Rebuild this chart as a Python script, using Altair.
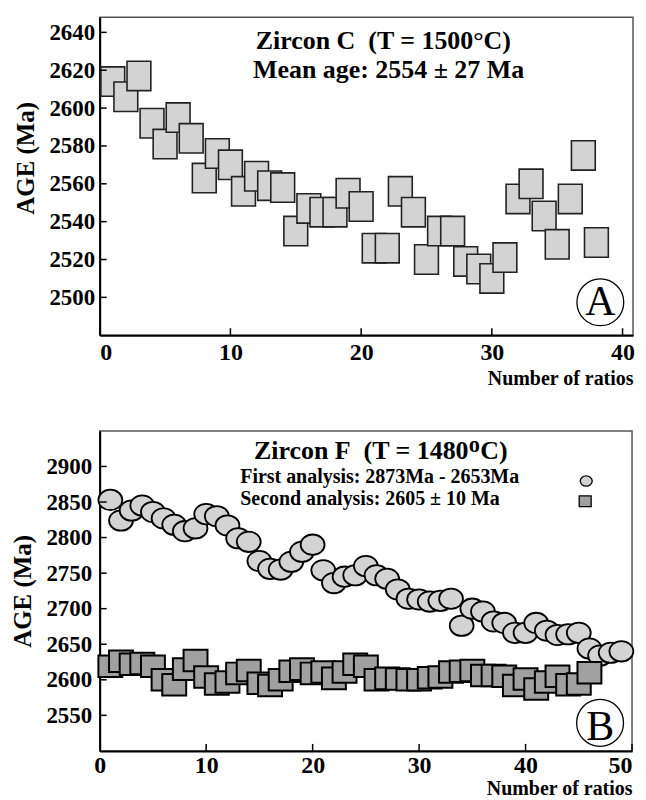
import altair as alt
import pandas as pd

FONT = "Liberation Serif"

# ---------------- data ----------------
a_ratio = list(range(1, 39))
a_age = [2614, 2606, 2617, 2592, 2581, 2595, 2584, 2563, 2576, 2570,
         2556, 2564, 2559, 2558, 2535, 2547, 2545, 2545, 2555, 2548,
         2526, 2526, 2556, 2545, 2520, 2535, 2535, 2519, 2515, 2510,
         2521, 2552, 2560, 2543, 2528, 2552, 2575, 2529]

b_first_ratio = list(range(1, 50))
b_first_age = [2853, 2824, 2838, 2845, 2836, 2827, 2818, 2809, 2813, 2833,
               2830, 2817, 2799, 2794, 2767, 2756, 2755, 2766, 2780, 2790,
               2754, 2736, 2745, 2747, 2760, 2747, 2742, 2727, 2714, 2713,
               2710, 2711, 2714, 2676, 2700, 2696, 2682, 2680, 2666, 2666,
               2680, 2669, 2663, 2664, 2666, 2644, 2634, 2638, 2640]

b_second_ratio = list(range(1, 47))
b_second_age = [2619, 2626, 2622, 2623, 2619, 2600, 2593, 2615, 2627, 2604,
                2594, 2597, 2609, 2613, 2595, 2592, 2600, 2612, 2615, 2609,
                2611, 2602, 2611, 2622, 2619, 2600, 2602, 2601, 2600, 2600,
                2603, 2604, 2611, 2612, 2613, 2606, 2606, 2605, 2592, 2601,
                2587, 2597, 2605, 2593, 2594, 2610]

a_x_ticks = [0, 10, 20, 30, 40]
a_y_ticks = [2500, 2520, 2540, 2560, 2580, 2600, 2620, 2640]
b_x_ticks = [0, 10, 20, 30, 40, 50]
b_y_ticks = [2550, 2600, 2650, 2700, 2750, 2800, 2850, 2900]

a_title_lines = ["Zircon C\u00a0\u00a0(T = 1500\u00b0C)", "Mean age: 2554 \u00b1 27 Ma"]
b_title = "Zircon F\u00a0\u00a0(T = 1480\u1d3cC)"
b_legend_lines = ["First analysis: 2873Ma - 2653Ma", "Second analysis: 2605 \u00b1 10 Ma"]

# ---------------- styling ----------------
A_SQUARE = "M-0.81,-1L0.81,-1L0.81,1L-0.81,1Z"
B_SQUARE = "M-1,-0.9L1,-0.9L1,0.9L-1,0.9Z"
ELLIPSE = ("M-1,0C-1,-0.47,-0.55,-0.85,0,-0.85C0.55,-0.85,1,-0.47,1,0"
           "C1,0.47,0.55,0.85,0,0.85C-0.55,0.85,-1,0.47,-1,0Z")

A_W, A_H = 535, 319
B_W, B_H = 534, 321
GAP = 96

a_xs = alt.Scale(domain=[0, 40.8], nice=False, zero=False)
a_ys = alt.Scale(domain=[2480, 2648], nice=False, zero=False)
b_xs = alt.Scale(domain=[0, 50], nice=False, zero=False)
b_ys = alt.Scale(domain=[2500, 2950], nice=False, zero=False)


def x_axis(values, title_y, label_pad, label_align=None):
    kw = dict(values=values, title="Number of ratios", format="d",
              labelFontSize=24, labelPadding=label_pad, titleFontSize=20,
              titleAnchor="end", titleY=title_y, titleBaseline="alphabetic")
    if label_align is not None:
        kw["labelAlign"] = label_align
    return alt.Axis(**kw)


def y_axis(values, label_padding, title_y=None):
    kw = dict(values=values, title="AGE (Ma)", format="d",
              labelFontSize=23, labelPadding=label_padding,
              titleFontSize=25, titlePadding=10)
    if title_y is not None:
        kw["titleY"] = title_y
    return alt.Axis(**kw)


def make_panel(xs, ys, xax, yax, h, xticks, yticks, layers_spec):
    X = alt.X("ratio:Q", scale=xs, axis=xax)
    Y = alt.Y("age:Q", scale=ys, axis=yax)
    layers = []
    for df, mark, kind in layers_spec:
        if kind == "text":
            layers.append(alt.Chart(df).mark_text(**mark).encode(x=X, y=Y, text="t:N"))
        else:
            layers.append(alt.Chart(df).mark_point(**mark).encode(x=X, y=Y))
    xt = pd.DataFrame({"ratio": [v for v in xticks if v != 0]})
    yt = pd.DataFrame({"age": yticks})
    rx = alt.Chart(xt).mark_rule(color="black", strokeWidth=1.5).encode(
        x=X, y=alt.value(h), y2=alt.value(h - 7))
    ry = alt.Chart(yt).mark_rule(color="black", strokeWidth=1.5).encode(
        y=Y, x=alt.value(0), x2=alt.value(7))
    return alt.layer(*(layers[:1] + [rx, ry] + layers[1:]))


# ---------------- panel A ----------------
dfa = pd.DataFrame({"ratio": a_ratio, "age": a_age})
txt_a = pd.DataFrame({"ratio": [21.7, 22.1], "age": [2631, 2616], "t": a_title_lines})
circ_a = pd.DataFrame({"ratio": [38.3], "age": [2497.4]})
let_a = pd.DataFrame({"ratio": [38.3], "age": [2490.9], "t": ["A"]})

panel_a = make_panel(
    a_xs, a_ys, x_axis(a_x_ticks, 49, 5), y_axis(a_y_ticks, 5, title_y=141), A_H,
    a_x_ticks, a_y_ticks,
    [
        (dfa, dict(shape=A_SQUARE, size=870, filled=True, fill="#d3d3d3",
                   stroke="#222222", strokeWidth=1.6, opacity=1), "point"),
        (txt_a, dict(font=FONT, fontSize=26, fontWeight="bold", align="center",
                     baseline="alphabetic", color="black"), "text"),
        (circ_a, dict(shape="circle", size=2209, fill="white", stroke="black",
                      strokeWidth=1.3, opacity=1, fillOpacity=1), "point"),
        (let_a, dict(font=FONT, fontSize=42, align="center", baseline="alphabetic",
                     color="black"), "text"),
    ],
).properties(width=A_W, height=A_H)

# ---------------- panel B ----------------
dfb1 = pd.DataFrame({"ratio": b_first_ratio, "age": b_first_age})
dfb2 = pd.DataFrame({"ratio": b_second_ratio, "age": b_second_age})
txt_bt = pd.DataFrame({"ratio": [26.4], "age": [2910], "t": [b_title]})
txt_bl = pd.DataFrame({"ratio": [13.2, 13.2], "age": [2877, 2845.5], "t": b_legend_lines})
leg_c = pd.DataFrame({"ratio": [45.7], "age": [2879.5]})
leg_s = pd.DataFrame({"ratio": [45.6], "age": [2851]})
circ_b = pd.DataFrame({"ratio": [47.0], "age": [2539.4]})
let_b = pd.DataFrame({"ratio": [47.0], "age": [2516], "t": ["B"]})

b_label_align = {"condition": {"test": "datum.value === 50", "value": "right"},
                 "value": "center"}

panel_b = make_panel(
    b_xs, b_ys, x_axis(b_x_ticks, 44, 3, b_label_align), y_axis(b_y_ticks, 8), B_H,
    b_x_ticks, b_y_ticks,
    [
        (dfb1, dict(shape=ELLIPSE, size=576, filled=True, fill="#d3d3d3",
                    stroke="black", strokeWidth=1.8, opacity=1), "point"),
        (dfb2, dict(shape=B_SQUARE, size=576, filled=True, fill="#a0a0a0",
                    stroke="black", strokeWidth=2, opacity=1), "point"),
        (txt_bt, dict(font=FONT, fontSize=26, fontWeight="bold", align="center",
                      baseline="alphabetic", color="black"), "text"),
        (txt_bl, dict(font=FONT, fontSize=20, fontWeight="bold", align="left",
                      baseline="alphabetic", color="black"), "text"),
        (leg_c, dict(shape=ELLIPSE, size=144, filled=True, fill="#d3d3d3",
                     stroke="black", strokeWidth=1.3, opacity=1), "point"),
        (leg_s, dict(shape=B_SQUARE, size=144, filled=True, fill="#a0a0a0",
                     stroke="black", strokeWidth=1.3, opacity=1), "point"),
        (circ_b, dict(shape="circle", size=2209, fill="white", stroke="black",
                      strokeWidth=1.3, opacity=1, fillOpacity=1), "point"),
        (let_b, dict(font=FONT, fontSize=42, align="center", baseline="alphabetic",
                     color="black"), "text"),
    ],
).properties(width=B_W, height=B_H)

chart = alt.vconcat(panel_a, panel_b, spacing=GAP, bounds="flush").properties(
    padding={"left": 2, "top": 7, "right": 0, "bottom": 0}
).configure_view(
    stroke="#555555", strokeWidth=1.5
).configure_axis(
    labelFont=FONT, labelFontWeight="bold", labelColor="black",
    titleFont=FONT, titleFontWeight="bold", titleColor="black",
    domainColor="black", domainWidth=2, tickSize=0, grid=False,
    labelOverlap=False
)

chart.save("out.html", embed_options={"renderer": "svg", "actions": False})
